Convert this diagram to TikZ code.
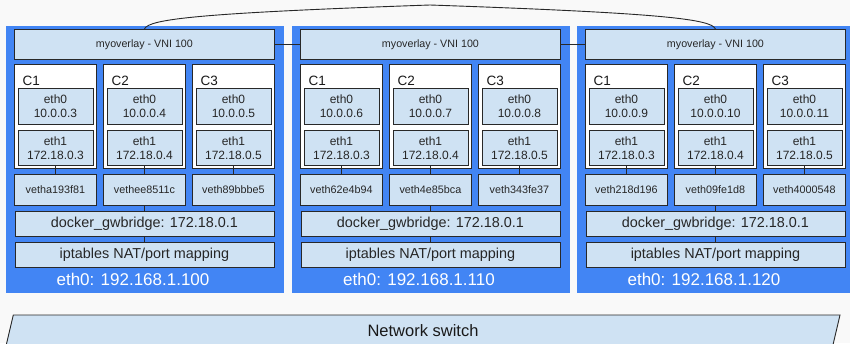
\documentclass[tikz,border=0pt]{standalone}
\usepackage{fontspec}
\setmainfont{Liberation Sans}
\usetikzlibrary{positioning}

\definecolor{hostblue}{RGB}{66,133,244}
\definecolor{boxblue}{RGB}{207,226,243}
\definecolor{bggray}{RGB}{249,249,249}
\definecolor{edgegray}{RGB}{40,40,40}

\begin{document}
\begin{tikzpicture}[x=1pt, y=-1pt,
  host/.style={fill=hostblue, anchor=north west, minimum width=278pt, minimum height=267pt, inner sep=0pt},
  box/.style={draw=edgegray, line width=0.9pt, fill=boxblue, inner sep=0pt, align=center, text=black!85},
  overlaybox/.style={box, anchor=north west, minimum width=260pt, minimum height=30pt, font=\fontsize{10.7}{12}\selectfont},
  ctr/.style={draw=edgegray, line width=0.9pt, fill=white, anchor=north west, minimum width=82pt, minimum height=104pt, inner sep=0pt},
  clabel/.style={anchor=west, inner sep=0pt, text=black!90, font=\fontsize{13.5}{15}\selectfont},
  ethbox/.style={box, minimum width=75pt, font=\fontsize{12}{14}\selectfont},
  vethbox/.style={box, minimum width=82pt, minimum height=31pt, font=\fontsize{10.8}{12}\selectfont},
  bridge/.style={box, minimum width=259pt, minimum height=25pt, font=\fontsize{14.4}{16}\selectfont},
  hostip/.style={text=white, inner sep=0pt, font=\fontsize{17}{20}\selectfont},
  link/.style={draw=edgegray, line width=0.9pt}]
  \clip (0,0) rectangle (850,343);
  \fill[bggray] (0,0) rectangle (850,343);

  \foreach \h/\hx/\ipa/\ipb/\ipc/\va/\vb/\vc/\hip in {
      1/6/3/4/5/vetha193f81/vethee8511c/veth89bbbe5/100,
      2/292/6/7/8/veth62e4b94/veth4e85bca/veth343fe37/110,
      3/577/9/10/11/veth218d196/veth09fe1d8/veth4000548/120} {
    \node[host] (h\h) at (\hx,26) {};
    \node[overlaybox] (o\h) at (\hx+8,29) {myoverlay - VNI 100};
    \foreach \k/\cx/\ea/\eb/\vn in {1/8/\ipa/3/\va, 2/97/\ipb/4/\vb, 3/186/\ipc/5/\vc} {
      \node[ctr] (c\h\k) at (\hx+\cx,64) {};
      \node[clabel] (l\h\k) at ([xshift=8.5pt, yshift=-17pt]c\h\k.north west) {C\k};
      \node[ethbox, minimum height=36pt, below=24pt of c\h\k.north] (e\h\k) {eth0\\10.0.0.\ea};
      \node[ethbox, minimum height=35pt, below=5pt of e\h\k] (f\h\k) {eth1\\172.18.0.\eb};
      \node[vethbox, below=5pt of c\h\k] (v\h\k) {\vn};
      \draw[link] (f\h\k.south) -- (v\h\k.north);
    }
    \node[bridge, below=5pt of v\h2] (gw\h) {docker\_gwbridge: 172.18.0.1};
    \node[bridge, below=5pt of gw\h] (nat\h) {iptables NAT/port mapping};
    \node[hostip] (ip\h) at (\hx+127,279.5) {eth0: 192.168.1.\hip};
    \draw[link] (v\h2.south) -- (gw\h.north);
    \draw[link] (gw\h.south) -- (nat\h.north);
  }

  \coordinate (peak) at (430,5);
  \draw[link] (o1.east) -- (o2.west);
  \draw[link] (o2.east) -- (o3.west);
  \draw[link] (o1.north) .. controls +(4,-10) and +(-230,8) .. (peak)
    .. controls +(230,8) and +(-4,-10) .. (o3.north);

  \draw[link, fill=boxblue] (13.3,315) -- (840,315) -- (829.4,360) -- (2.7,360) -- cycle;
  \node[text=black!90, font=\fontsize{16.5}{18}\selectfont] (switch) at (423,331) {Network switch};
\end{tikzpicture}
\end{document}
